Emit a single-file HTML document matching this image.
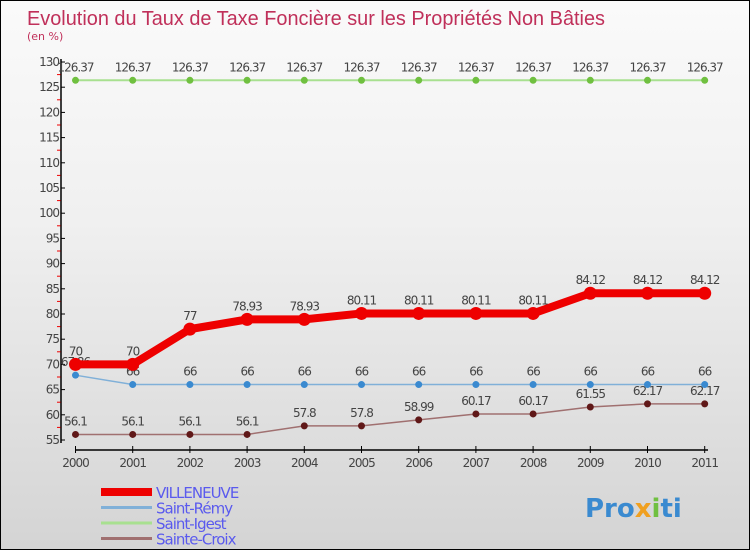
<!DOCTYPE html>
<html><head><meta charset="utf-8"><style>
body{margin:0;}
#c{position:relative;width:748px;height:548px;border:1px solid #000;background:linear-gradient(#fafafa,#f0f0f0 40%,#d4d4d4);overflow:hidden;font-family:"DejaVu Sans","Liberation Sans",sans-serif;}
</style></head><body>
<div id="c">
<svg id="s" width="748" height="548">
<text x="26" y="24" font-size="20" fill="#c0305a" font-family="Liberation Sans, sans-serif" textLength="578" lengthAdjust="spacingAndGlyphs">Evolution du Taux de Taxe Foncière sur les Propriétés Non Bâties</text>
<text x="26" y="39" font-size="11" fill="#c0305a">(en %)</text>
</svg>
</div>
<script>
const years=[2000,2001,2002,2003,2004,2005,2006,2007,2008,2009,2010,2011];
const villeneuve=[70,70,77,78.93,78.93,80.11,80.11,80.11,80.11,84.12,84.12,84.12];
const saintRemy=[67.86,66,66,66,66,66,66,66,66,66,66,66];
const saintIgest=[126.37,126.37,126.37,126.37,126.37,126.37,126.37,126.37,126.37,126.37,126.37,126.37];
const sainteCroix=[56.1,56.1,56.1,56.1,57.8,57.8,58.99,60.17,60.17,61.55,62.17,62.17];
const yTicks=[55,60,65,70,75,80,85,90,95,100,105,110,115,120,125,130];
const NS="http://www.w3.org/2000/svg";
const svg=document.getElementById('s');
const X=i=>74.5+i*57.2;
const Y=v=>439-(v-55)*(378/75);
function mk(t,a,p){const e=document.createElementNS(NS,t);for(const k in a)e.setAttribute(k,a[k]);(p||svg).appendChild(e);return e;}
let ax=mk('line',{x1:60,y1:58,x2:60,y2:442,stroke:'#000','stroke-width':1.5});


let bx=mk('line',{x1:74,y1:449,x2:707,y2:449,stroke:'#000','stroke-width':1.5});


yTicks.forEach((v,i)=>{
 mk('line',{x1:60,y1:Y(v),x2:64,y2:Y(v),stroke:'#000'});
 if(i<yTicks.length-1) mk('line',{x1:56,y1:Y(v+2.5),x2:59.5,y2:Y(v+2.5),stroke:'#e00'});
 const t=mk('text',{x:58,y:Y(v)+4,'font-size':12,'text-anchor':'end',fill:'#444','letter-spacing':'-1'});
 t.textContent=v;
 
 
});
years.forEach((y,i)=>{
 mk('line',{x1:X(i),y1:445,x2:X(i),y2:452,stroke:'#000'});
 const t=mk('text',{x:X(i),y:466,'font-size':12,'text-anchor':'middle',fill:'#444','letter-spacing':'-1'});
 t.textContent=y;
 
 
});
function series(vals,color,w,r,name,dot){
 const g=mk('g',{});
 
 
 mk('polyline',{points:vals.map((v,i)=>X(i)+','+Y(v)).join(' '),fill:'none',stroke:color,'stroke-width':w,'stroke-linejoin':'round'},g);
 vals.forEach((v,i)=>{
  const c=mk('circle',{cx:X(i),cy:Y(v),r:r,fill:dot},g);
  
  
  const t=mk('text',{x:X(i),y:Y(v)-9,'font-size':12,'text-anchor':'middle',fill:'#444','letter-spacing':'-1'},g);
  t.textContent=v;
  
  
 });
}
series(saintIgest,'#a8e090',2,3.5,'saint-igest','#70c040');
series(sainteCroix,'#a07070',1.5,3.5,'sainte-croix','#601818');
series(saintRemy,'#80b0d8',1.5,3.5,'saint-remy','#3a8ad0');
series(villeneuve,'#ee0000',8,6.5,'villeneuve','#ee0000');
const legend=[['VILLENEUVE','#ee0000',8],['Saint-Rémy','#80b0d8',3],['Saint-Igest','#a8e090',3],['Sainte-Croix','#a07070',3]];
legend.forEach((l,i)=>{
 const y=491+i*15.5;
 const g=mk('g',{});
 
 
 mk('line',{x1:100,y1:y,x2:151,y2:y,stroke:l[1],'stroke-width':l[2]},g);
 const t=mk('text',{x:155,y:y+6,'font-size':15,fill:'#5a5aee','letter-spacing':'-1'},g);
 t.textContent=l[0];
});
const lg=mk('text',{x:584,y:516,'font-size':26,'font-weight':'bold',fill:'#3a8ad0'});
lg.innerHTML='Pro<tspan fill="#f0a020">x</tspan><tspan fill="#70c040">i</tspan>ti';


</script>
</body></html>
